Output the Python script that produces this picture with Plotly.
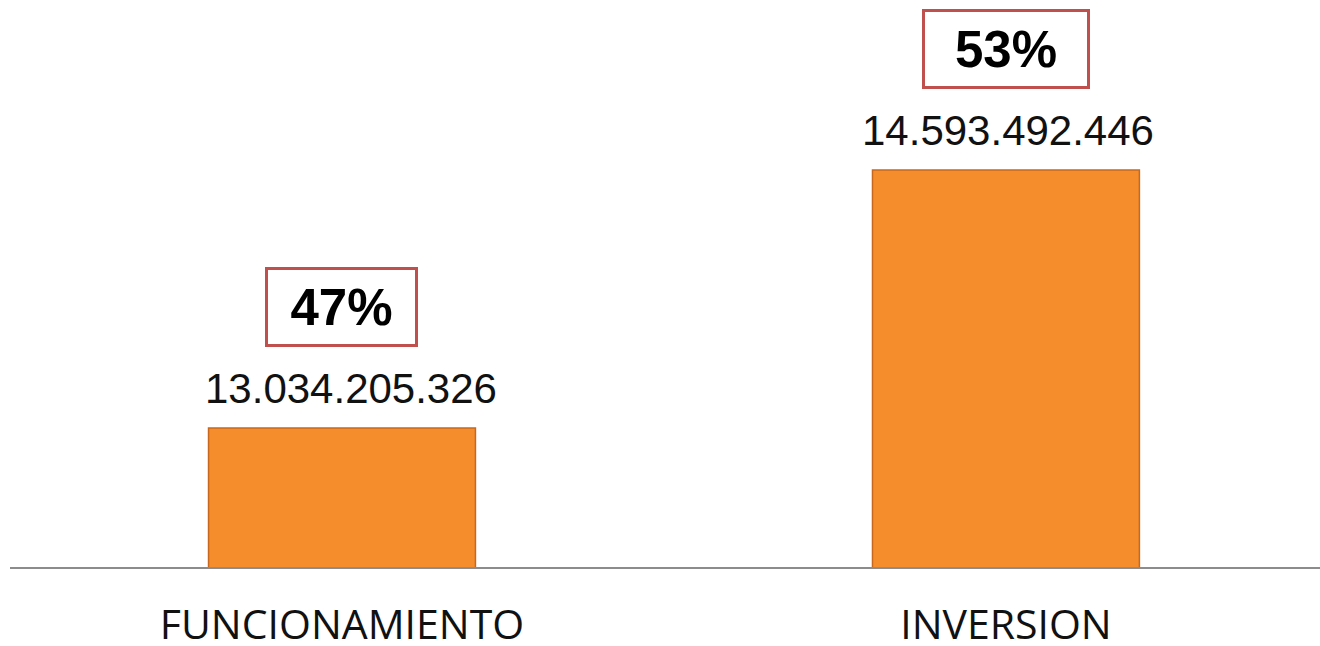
import plotly.graph_objects as go

categories = ["FUNCIONAMIENTO", "INVERSION"]
values = [13034205326, 14593492446]
value_labels = ["13.034.205.326", "14.593.492.446"]
pct_labels = ["47%", "53%"]

label_xshift = [9, 2]

fig = go.Figure()
fig.add_trace(go.Bar(
    x=categories, y=values,
    width=0.402,
    marker=dict(color="#F58D2C", line=dict(color="#C8681C", width=1.5)),
    hoverinfo="skip",
))

for i, (cat, v) in enumerate(zip(categories, values)):
    fig.add_annotation(x=cat, y=v, xref="x", yref="y", text=value_labels[i],
                       showarrow=False, yanchor="middle", yshift=40, xshift=label_xshift[i],
                       font=dict(family="Liberation Sans, Arial", size=42, color="#111111"))
    fig.add_annotation(x=cat, y=v, xref="x", yref="y", text="<b>" + pct_labels[i] + "</b>",
                       showarrow=False, yanchor="middle", yshift=121,
                       width=147 if i == 0 else 162, height=74,
                       bordercolor="#C0504D", borderwidth=3, borderpad=0,
                       bgcolor="white",
                       font=dict(family="Liberation Sans, Arial", size=51, color="#000000"))

fig.update_layout(
    width=1320, height=646,
    margin=dict(l=10, r=0, t=0, b=79),
    paper_bgcolor="white", plot_bgcolor="white",
    showlegend=False,
)
fig.update_xaxes(range=[-0.5, 1.473], showline=True, linecolor="#8C8C8C", linewidth=2,
                 showgrid=False, ticks="", ticklabelstandoff=21, automargin=False,
                 tickfont=dict(family="Open Sans", size=41, color="#111111"))
fig.update_yaxes(range=[12194120000, 15620930000], visible=False, showgrid=False,
                 automargin=False)

fig.write_html("out.html", config={"displayModeBar": False},
               post_script="document.body.style.margin='0';document.body.style.overflow='hidden';")
